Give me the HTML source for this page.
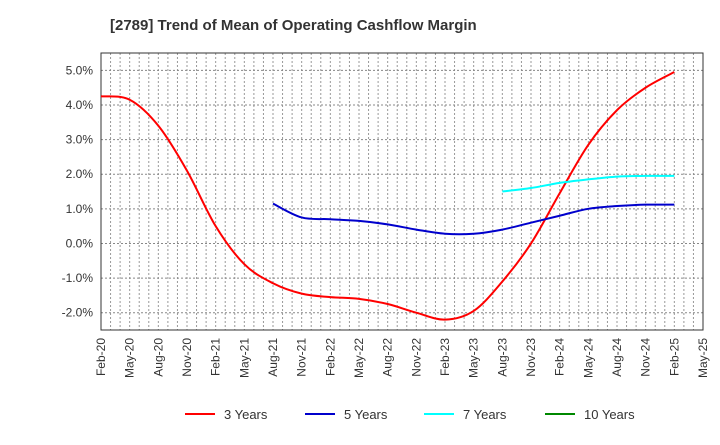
<!DOCTYPE html>
<html><head><meta charset="utf-8"><style>
body{margin:0;background:#fff;font-family:"Liberation Sans",sans-serif}
svg text{font-family:"Liberation Sans",sans-serif}
</style></head><body>
<svg width="720" height="440" id="c">
<text x="110" y="30" font-size="15" font-weight="bold" fill="#333">[2789]  Trend of Mean of Operating Cashflow Margin</text>
<g id="grid"></g><g id="axes"></g><g id="series"></g><g id="legend"></g>
</svg>
<script>
const xLabels=["Feb-20","May-20","Aug-20","Nov-20","Feb-21","May-21","Aug-21","Nov-21","Feb-22","May-22","Aug-22","Nov-22","Feb-23","May-23","Aug-23","Nov-23","Feb-24","May-24","Aug-24","Nov-24","Feb-25","May-25"];
const yTicks=[-2,-1,0,1,2,3,4,5];
const s3=[4.25,4.15,3.4,2.1,0.5,-0.6,-1.15,-1.45,-1.55,-1.6,-1.75,-2.0,-2.2,-1.95,-1.1,0.0,1.45,2.85,3.85,4.5,4.95];
const s5=[1.15,0.75,0.7,0.65,0.55,0.4,0.28,0.28,0.4,0.6,0.8,1.0,1.08,1.12,1.12];
const s5Start=6;
const s7=[1.5,1.6,1.75,1.85,1.93,1.95,1.95];
const s7Start=14;
const NS="http://www.w3.org/2000/svg";
const L=101,R=703,T=53,B=330,yMin=-2.5,yMax=5.5;
const xq=i=>L+i*(R-L)/21;
const y=v=>B-(v-yMin)/(yMax-yMin)*(B-T);
function mk(tag,at,parent){const e=document.createElementNS(NS,tag);for(const k in at)e.setAttribute(k,at[k]);document.getElementById(parent).appendChild(e);return e;}
for(let m=0;m<=63;m++){const x=L+m*(R-L)/63;
const g=mk('line',{x1:x,x2:x,y1:T,y2:B,stroke:'#999','stroke-dasharray':'2,2','stroke-width':1},'grid');

}
yTicks.forEach(v=>{const g=mk('line',{x1:L,x2:R,y1:y(v),y2:y(v),stroke:'#888','stroke-dasharray':'2,2','stroke-width':1},'grid');


const t=mk('text',{x:L-8,y:y(v)+4,'text-anchor':'end','font-size':12,fill:'#333'},'axes');t.textContent=v.toFixed(1)+'%';

});
const fr=mk('rect',{x:L,y:T,width:R-L,height:B-T,fill:'none',stroke:'#333','stroke-width':1},'axes');


xLabels.forEach((s,i)=>{const x=xq(i);const t=mk('text',{x:0,y:0,'text-anchor':'end','font-size':12,fill:'#333',transform:`translate(${x+4},${B+8}) rotate(-90)`},'axes');t.textContent=s;

});
function path(vals,start){const p=vals.map((v,i)=>[xq(start+i),y(v)]);let d=`M${p[0][0]},${p[0][1]}`;
for(let i=0;i<p.length-1;i++){const p0=p[Math.max(0,i-1)],p1=p[i],p2=p[i+1],p3=p[Math.min(p.length-1,i+2)];
d+=` C${p1[0]+(p2[0]-p0[0])/6},${p1[1]+(p2[1]-p0[1])/6} ${p2[0]-(p3[0]-p1[0])/6},${p2[1]-(p3[1]-p1[1])/6} ${p2[0]},${p2[1]}`;}return d;}
[[s3,0,'#f00','series-3-years'],[s5,s5Start,'#00c','series-5-years'],[s7,s7Start,'#0ff','series-7-years']].forEach(([v,s,c,n])=>{
const e=mk('path',{d:path(v,s),fill:'none',stroke:c,'stroke-width':2},'series');

});
[['3 Years','#f00',185],['5 Years','#00c',305],['7 Years','#0ff',424],['10 Years','#080',545]].forEach(([n,c,x])=>{
const l=mk('line',{x1:x,x2:x+30,y1:414,y2:414,stroke:c,'stroke-width':2},'legend');


const t=mk('text',{x:x+39,y:419,'font-size':13,fill:'#333'},'legend');t.textContent=n;

});
</script>
</body></html>
